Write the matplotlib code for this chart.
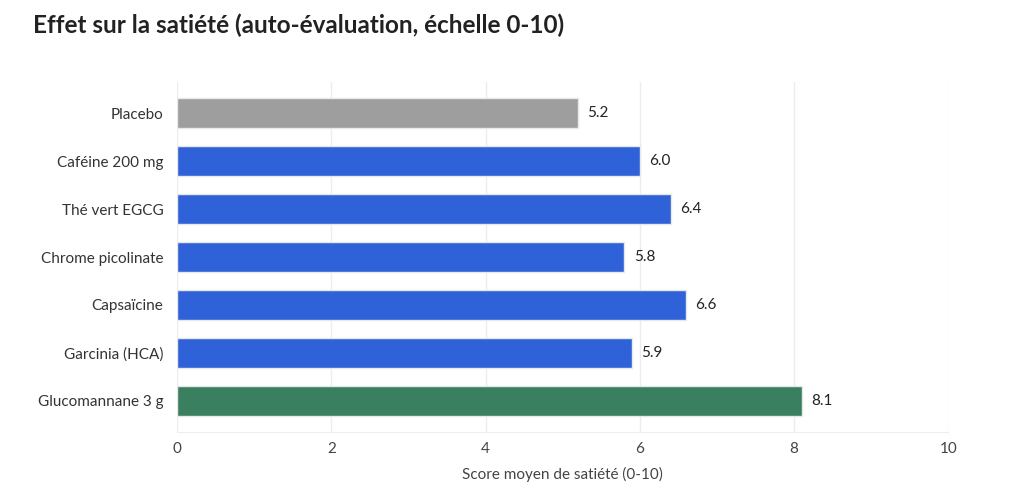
import matplotlib
matplotlib.use('Agg')
import matplotlib.pyplot as plt

plt.rcParams['font.family'] = ['Lato', 'DejaVu Sans']

categories = ['Placebo', 'Caféine 200 mg', 'Thé vert EGCG', 'Chrome picolinate',
              'Capsaïcine', 'Garcinia (HCA)', 'Glucomannane 3 g']
scores = [5.2, 6.0, 6.4, 5.8, 6.6, 5.9, 8.1]
colors = ['#9e9e9e', '#2f62d8', '#2f62d8', '#2f62d8', '#2f62d8', '#2f62d8', '#3a7f5f']

fig = plt.figure(figsize=(10.24, 5.04), dpi=100)
ax = fig.add_axes([0.173, 0.143, 0.753, 0.694])

ypos = list(range(len(categories)))
ax.barh(ypos, scores, height=0.62, color=colors, edgecolor='#e8e8e8', linewidth=1, zorder=3)
for y, v in zip(ypos, scores):
    ax.text(v + 0.12, y, f'{v:.1f}', va='center', ha='left', fontsize=11, color='#222222')

ax.set_yticks(ypos)
ax.set_yticklabels(categories, fontsize=11, color='#333333')
ax.set_ylim(6.65, -0.65)
ax.set_xlim(0, 10)
ax.set_xticks([0, 2, 4, 6, 8, 10])
ax.tick_params(axis='x', labelsize=11, colors='#444444', length=0, pad=7)
ax.tick_params(axis='y', length=0, pad=10)
ax.grid(axis='x', color='#ececec', linewidth=1, zorder=0)
for s in ['top', 'right', 'left']:
    ax.spines[s].set_visible(False)
ax.spines['bottom'].set_color('#eeeeee')
ax.set_xlabel('Score moyen de satiété (0-10)', fontsize=11, color='#444444', labelpad=8)

fig.text(0.032, 0.95, 'Effet sur la satiété (auto-évaluation, échelle 0-10)',
         fontsize=17.5, fontweight='bold', color='#222222', va='center', ha='left')

fig.savefig('out.png', dpi=100, facecolor='white')
